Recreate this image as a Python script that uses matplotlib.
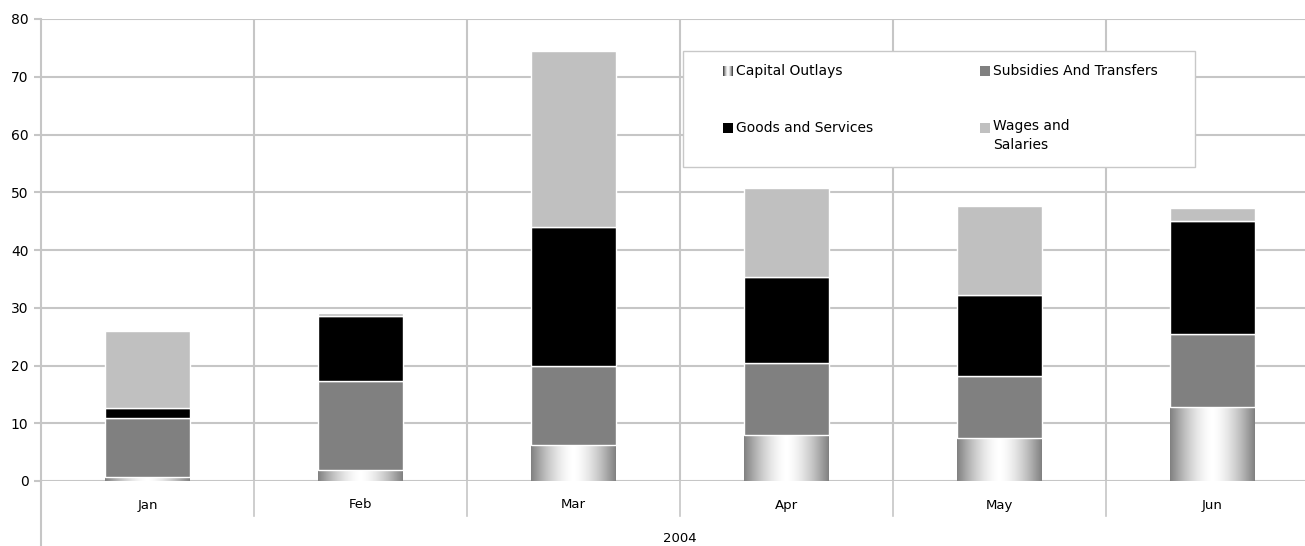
import matplotlib
matplotlib.use("Agg")
import matplotlib.pyplot as plt
import numpy as np
from matplotlib.patches import Rectangle
from matplotlib.transforms import blended_transform_factory

months = ["Jan", "Feb", "Mar", "Apr", "May", "Jun"]
year_label = "2004"
series_names = ["Capital Outlays", "Subsidies And Transfers",
                "Goods and Services", "Wages and\nSalaries"]
capital_outlays = [0.67, 1.9, 6.2, 8.0, 7.4, 12.9]
subsidies = [10.23, 15.4, 13.7, 12.4, 10.8, 12.5]
goods_services = [1.8, 11.2, 24.1, 14.9, 14.0, 19.7]
wages_salaries = [13.3, 0.6, 30.5, 15.5, 15.4, 2.1]
y_ticks = [0, 10, 20, 30, 40, 50, 60, 70, 80]

GRID = "#c6c6c6"
FONT = "DejaVu Sans"


def gradient_img():
    x = np.linspace(0, 1, 200)
    v = 0.5 + 0.5 * (1 - np.abs(2 * x - 1) ** 1.6)
    return np.tile(v, (2, 1))


def main():
    W, H = 1305, 546
    fig = plt.figure(figsize=(W / 100, H / 100), dpi=100)
    left, right, top, bottom = 41, 1319, 19, 481
    ax = fig.add_axes([left / W, (H - bottom) / H,
                       (right - left) / W, (bottom - top) / H])

    x = np.arange(len(months)) + 0.5
    width = 0.395
    img = gradient_img()

    # capital outlays: gradient bars
    cap_bars = ax.bar(x, capital_outlays, width, color="#b0b0b0",
                      edgecolor="none", linewidth=0, zorder=3)
    for b in cap_bars:
        x0, y0 = b.get_x(), b.get_y()
        im = ax.imshow(img, cmap="gray", vmin=0, vmax=1, aspect="auto",
                       extent=[x0, x0 + b.get_width(), y0, y0 + b.get_height()],
                       zorder=3.5, interpolation="bilinear")
        im.set_clip_path(b)

    base = np.array(capital_outlays)
    ax.bar(x, subsidies, width, bottom=base, color="#808080",
           edgecolor="white", linewidth=1, zorder=4)
    base = base + np.array(subsidies)
    ax.bar(x, goods_services, width, bottom=base, color="#000000",
           edgecolor="white", linewidth=1, zorder=4)
    base = base + np.array(goods_services)
    ax.bar(x, wages_salaries, width, bottom=base, color="#c0c0c0",
           edgecolor="white", linewidth=1, zorder=4)

    ax.set_xlim(0, len(months))
    ax.set_ylim(0, 80)
    ax.set_yticks(y_ticks)
    ax.set_yticklabels([str(t) for t in y_ticks], fontsize=10, family=FONT)
    ax.tick_params(axis="y", length=5, width=1.5, color=GRID, pad=4)
    ax.set_xticks([])
    for s in ["top", "right", "bottom"]:
        ax.spines[s].set_visible(False)
    ax.spines["left"].set_color(GRID)
    ax.spines["left"].set_linewidth(1.5)

    for t in y_ticks:
        ax.axhline(t, color=GRID, lw=1.5, zorder=1)
    for i in range(1, len(months) + 1):
        ax.axvline(i, color=GRID, lw=1.5, zorder=1)

    # category axis below the plot
    tr = blended_transform_factory(ax.transData, ax.transAxes)
    ax_h = bottom - top
    y_tick_end = -(516 - bottom) / ax_h
    y_fig_end = -(H - bottom) / ax_h
    for i in range(1, len(months)):
        ax.plot([i, i], [0, y_tick_end], transform=tr, color=GRID,
                lw=1.2, clip_on=False)
    ax.plot([0, 0], [0, y_fig_end], transform=tr, color=GRID,
            lw=1.5, clip_on=False)
    for xi, m in zip(x, months):
        ax.text(xi, -(505 - bottom) / ax_h, m, transform=tr, ha="center",
                va="center", fontsize=9.5, family=FONT)
    ax.text(len(months) / 2, -(539 - bottom) / ax_h, year_label,
            transform=tr, ha="center", va="center", fontsize=9.5, family=FONT)

    # legend box
    fig.patches.append(Rectangle((683 / W, 1 - 167 / H), 512 / W, 116 / H,
                                 transform=fig.transFigure, facecolor="white",
                                 edgecolor="#c8c8c8", lw=1, zorder=10))
    entries = [(723, 71, "grad"), (980, 71, "#808080"),
               (723, 128, "#000000"), (980, 128, "#c0c0c0")]
    for (mx, my, col), name in zip(entries, series_names):
        if col == "grad":
            lax = fig.add_axes([mx / W, 1 - (my + 5) / H, 10 / W, 10 / H],
                               zorder=11)
            lax.imshow(img, cmap="gray", vmin=0.4, vmax=1, aspect="auto")
            lax.axis("off")
        else:
            fig.patches.append(Rectangle((mx / W, 1 - (my + 5) / H),
                                         10 / W, 10 / H,
                                         transform=fig.transFigure,
                                         facecolor=col, edgecolor="none",
                                         zorder=11))
        if "\n" in name:
            fig.text((mx + 13) / W, 1 - (my - 9) / H, name, ha="left",
                     va="top", fontsize=10, family=FONT, zorder=12,
                     linespacing=1.45)
        else:
            fig.text((mx + 13) / W, 1 - my / H, name, ha="left",
                     va="center", fontsize=10, family=FONT, zorder=12)

    fig.savefig("out.png", dpi=100)


if __name__ == "__main__":
    main()
